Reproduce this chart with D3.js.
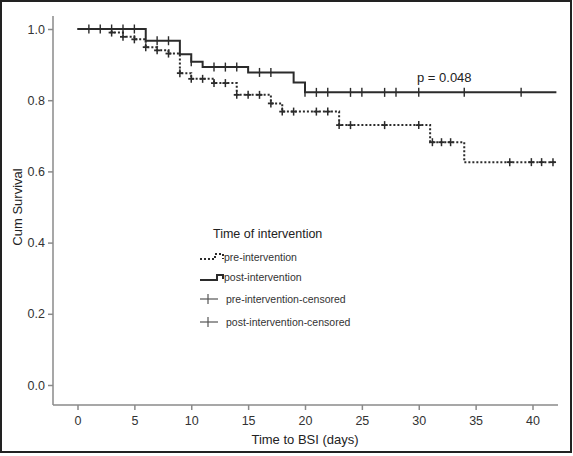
<!DOCTYPE html>
<html><head><meta charset="utf-8">
<script src="https://cdn.jsdelivr.net/npm/d3@7"></script>
<style>
html,body{margin:0;padding:0;background:#fff;}
svg{display:block;font-family:"Liberation Sans",Arial,sans-serif;}
</style></head>
<body>
<svg id="chart" width="573" height="456"></svg>
<script>
// ---- data ----
const xTicks = [0,5,10,15,20,25,30,35,40];
const yTicks = [0.0,0.2,0.4,0.6,0.8,1.0];
const preTimes = [0,3,4,5,6,7,8,9,10,12,14,17,18,23,31,34];
const preSurv  = [1,0.99,0.978,0.971,0.949,0.94,0.931,0.876,0.86,0.848,0.815,0.791,0.768,0.73,0.682,0.626];
const preCensor = [3,4,5,6,7,8,9,10,11,12,13,14,15,16,17,18,19,21,22,23,24,27,30,31.2,32,32.8,38,39.9,40.8,41.8];
const postTimes = [0,6,9,10,11,15,19,20];
const postSurv  = [1,0.967,0.929,0.908,0.893,0.878,0.85,0.822];
const postCensor = [1,2,3,4,5,7,8,10,12,13,14,16,17,20,21,22,24,25,27,28,30,34,39];
const endTime = 42.1;
const legendTitle = "Time of intervention";
const legendLabels = ["pre-intervention","post-intervention","pre-intervention-censored","post-intervention-censored"];
const pValue = "p = 0.048";

// ---- layout ----
const svg = d3.select("#chart");
const x = d3.scaleLinear().domain([0,40]).range([77.5,532.5]);
const y = d3.scaleLinear().domain([0,1]).range([385,29]);
const xMin = x.invert(53), xMax = x.invert(558);
const yTop = y.invert(16), yBot = y.invert(405);
const ink = "#2b2b2b", axisCol = "#8a8a8a";

// frame
svg.append("rect").attr("x",1).attr("y",1).attr("width",570).attr("height",451)
  .attr("fill","none").attr("stroke","#222").attr("stroke-width",2);

// axes
const xAxis = d3.axisBottom(x).tickValues(xTicks).tickFormat(d3.format("d")).tickSize(5).tickSizeOuter(0);
const gx = svg.append("g").attr("transform",`translate(0,${y(yBot)})`).call(xAxis);
gx.select(".domain").remove();
gx.append("line").attr("x1",x(xMin)).attr("x2",x(xMax)).attr("stroke",axisCol).attr("stroke-width",1.5);
gx.selectAll(".tick line").attr("stroke",axisCol).attr("stroke-width",1.5);
gx.selectAll(".tick text").attr("fill","#333").attr("font-size","12.5px").attr("dy","0.95em")
  .attr("font-family","Liberation Sans,Arial,sans-serif");

const yAxis = d3.axisLeft(y).tickValues(yTicks).tickFormat(d3.format(".1f")).tickSize(5).tickSizeOuter(0);
const gy = svg.append("g").attr("transform",`translate(${x(xMin)},0)`).call(yAxis);
gy.select(".domain").remove();
gy.append("line").attr("y1",y(yTop)).attr("y2",y(yBot)).attr("stroke",axisCol).attr("stroke-width",1.5);
gy.selectAll(".tick line").attr("stroke",axisCol).attr("stroke-width",1.5);
gy.selectAll(".tick text").attr("fill","#333").attr("font-size","12.5px").attr("x",-8)
  .attr("font-family","Liberation Sans,Arial,sans-serif");

// axis titles
svg.append("text").attr("x",305).attr("y",444).attr("text-anchor","middle")
  .attr("font-size","13px").attr("fill","#222").text("Time to BSI (days)");
svg.append("text").attr("transform","translate(22,207) rotate(-90)").attr("text-anchor","middle")
  .attr("font-size","13px").attr("fill","#222").text("Cum Survival");

// curves
function stepPts(times, surv){
  const pts = times.map((t,i)=>[t,surv[i]]);
  pts.push([endTime, surv[surv.length-1]]);
  return pts;
}
function survAt(times, surv, t){
  let s = surv[0];
  for(let i=0;i<times.length;i++){ if(times[i] <= t + 1e-9) s = surv[i]; }
  return s;
}
const line = d3.line().x(d=>x(d[0])).y(d=>y(d[1])).curve(d3.curveStepAfter);

svg.append("path").datum(stepPts(postTimes,postSurv)).attr("d",line)
  .attr("fill","none").attr("stroke",ink).attr("stroke-width",2);
svg.append("path").datum(stepPts(preTimes,preSurv)).attr("d",line)
  .attr("fill","none").attr("stroke",ink).attr("stroke-width",2).attr("stroke-dasharray","2,2");

// censor marks
svg.append("g").selectAll("line").data(postCensor).join("line")
  .attr("x1",d=>x(d)).attr("x2",d=>x(d))
  .attr("y1",d=>y(survAt(postTimes,postSurv,d))-4.5).attr("y2",d=>y(survAt(postTimes,postSurv,d))+4.5)
  .attr("stroke",ink).attr("stroke-width",1.4);
const pc = svg.append("g").selectAll("g").data(preCensor).join("g")
  .attr("transform",d=>`translate(${x(d)},${y(survAt(preTimes,preSurv,d))})`);
pc.append("line").attr("y1",-4).attr("y2",4).attr("stroke",ink).attr("stroke-width",1.5);
pc.append("line").attr("x1",-3).attr("x2",3).attr("stroke",ink).attr("stroke-width",1.8);

// p-value
svg.append("text").attr("x",417).attr("y",82).attr("font-size","13px").attr("fill","#222").text(pValue);

// legend
const lg = svg.append("g");
lg.append("text").attr("x",213).attr("y",238).attr("font-size","12.5px").attr("fill","#222").text(legendTitle);
const rowY = [257,277,299,322];
legendLabels.forEach((lab,i)=>{
  lg.append("text").attr("x",i<2?224:226).attr("y",rowY[i]+4).attr("font-size","10.5px").attr("fill","#333").text(lab);
});
lg.append("path").attr("d",`M200,${rowY[0]+2}H215V${rowY[0]-3}H223V${rowY[0]+2}`)
  .attr("fill","none").attr("stroke",ink).attr("stroke-width",2).attr("stroke-dasharray","2,2");
lg.append("path").attr("d",`M200,${rowY[1]+3}H217V${rowY[1]-2}H223V${rowY[1]+2}`)
  .attr("fill","none").attr("stroke",ink).attr("stroke-width",2);
[2,3].forEach(i=>{
  lg.append("line").attr("x1",200).attr("x2",218).attr("y1",rowY[i]).attr("y2",rowY[i]).attr("stroke","#555").attr("stroke-width",1.2);
  lg.append("line").attr("x1",208).attr("x2",208).attr("y1",rowY[i]-5).attr("y2",rowY[i]+5).attr("stroke","#555").attr("stroke-width",1.2);
});
</script>
</body></html>
